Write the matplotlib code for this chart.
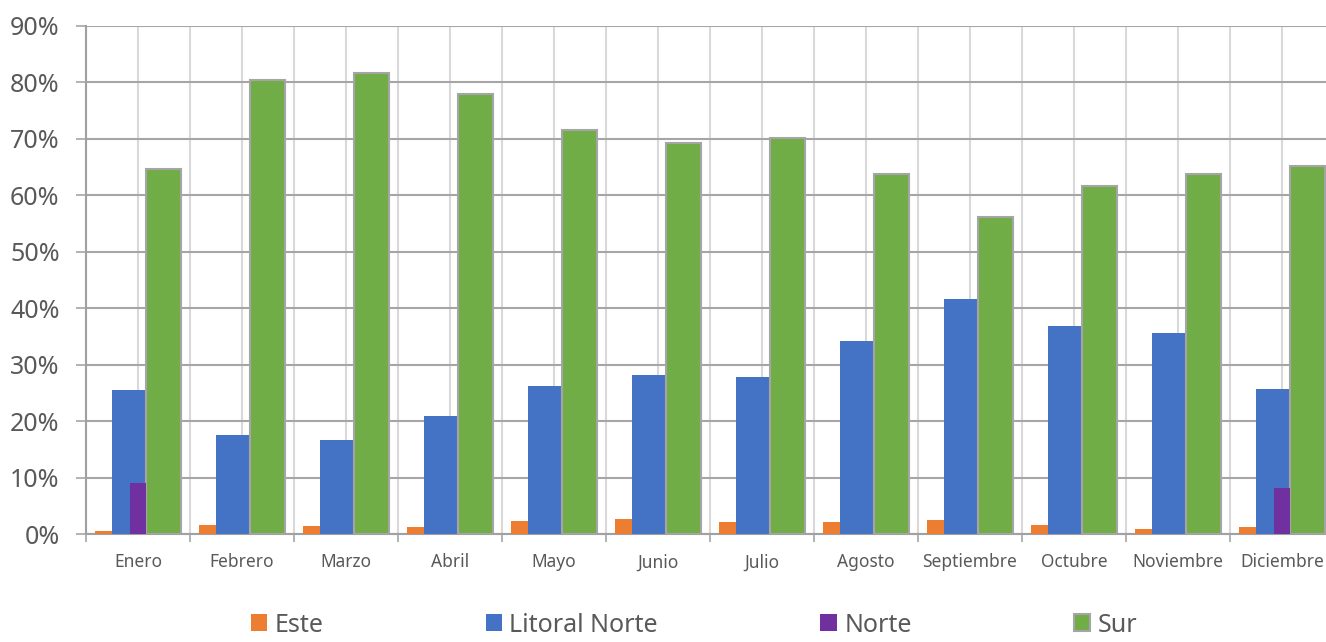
import numpy as np
import matplotlib
matplotlib.use('Agg')
import matplotlib.pyplot as plt
from matplotlib.ticker import FuncFormatter

plt.rcParams['font.family'] = ['Noto Sans', 'DejaVu Sans']

# Datos (porcentaje)
meses = ['Enero', 'Febrero', 'Marzo', 'Abril', 'Mayo', 'Junio', 'Julio',
         'Agosto', 'Septiembre', 'Octubre', 'Noviembre', 'Diciembre']
este = [0.5, 1.6, 1.4, 1.2, 2.3, 2.6, 2.1, 2.1, 2.5, 1.6, 0.9, 1.2]
litoral_norte = [25.5, 17.6, 16.7, 20.9, 26.2, 28.2, 27.8, 34.2, 41.7, 36.9, 35.6, 25.7]
norte = [9.0, 0, 0, 0, 0, 0, 0, 0, 0, 0, 0, 8.2]
sur = [64.7, 80.5, 81.7, 78.0, 71.6, 69.3, 70.2, 63.8, 56.2, 61.7, 63.7, 65.2]

cEste = '#ed7d31'
cLit = '#4472c4'
cNorte = '#7030a0'
cSur = '#70ad47'
txt = '#595959'

W, H = 1326, 642
fig = plt.figure(figsize=(W / 100, H / 100), dpi=100)
ax = fig.add_axes([86 / W, 1 - 534 / H, 1248 / W, 508 / H])

x = np.arange(len(meses))
ax.bar(x - 0.33, este, width=0.163, color=cEste, label='Este', zorder=3)
ax.bar(x - 0.0865, litoral_norte, width=0.327, color=cLit, label='Litoral Norte', zorder=3)
ax.bar(x + 0.0, norte, width=0.163, color=cNorte, label='Norte', zorder=4)
ax.bar(x + 0.245, sur, width=0.33, color=cSur, edgecolor='#a5a5a5', linewidth=1.5,
       label='Sur', zorder=3)

ax.set_xlim(-0.5, len(meses) - 0.5)
ax.set_ylim(0, 90)
ax.set_yticks(np.arange(0, 91, 10))
ax.yaxis.set_major_formatter(FuncFormatter(lambda v, p: '%d%%' % v))

# ticks en los limites de categoria, etiquetas al centro
ax.set_xticks(np.arange(-0.5, len(meses), 1.0))
ax.set_xticklabels([])
ax.set_xticks(x, minor=True)
ax.set_xticklabels(meses, minor=True)
ax.tick_params(axis='x', which='minor', length=0, pad=14, labelsize=12.5, labelcolor=txt)
ax.tick_params(axis='x', which='major', length=6, width=1.2, color='#a6a6a6')
ax.tick_params(axis='y', length=7, width=1.2, color='#a6a6a6', pad=12,
               labelsize=18, labelcolor=txt)

ax.grid(axis='x', which='both', color='#d9d9d9', linewidth=1.5, zorder=0)
ax.grid(axis='y', which='major', color='#a6a6a6', linewidth=1.5, zorder=1)
ax.set_axisbelow(True)

for s in ['left', 'bottom']:
    ax.spines[s].set_color('#a0a0a0')
    ax.spines[s].set_linewidth(1.5)
for s in ['top', 'right']:
    ax.spines[s].set_visible(False)

leg = fig.legend(loc='center', bbox_to_anchor=(694 / W, 1 - 625 / H), ncol=4, frameon=False,
                 fontsize=18, handlelength=0.65, handleheight=0.65, handletextpad=0.3,
                 columnspacing=6.5, labelcolor=txt, borderpad=0.1)

fig.savefig('out.png', dpi=100)
